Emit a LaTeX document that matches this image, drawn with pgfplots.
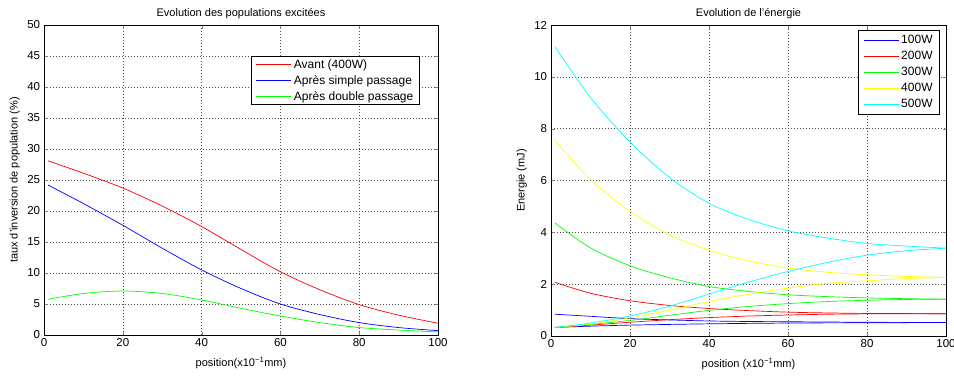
\documentclass[border=0pt]{standalone}
\usepackage{fontspec}
\setmainfont{Liberation Sans}
\usepackage{pgfplots}
\pgfplotsset{compat=1.18}
\definecolor{mred}{RGB}{255,0,0}
\definecolor{mblue}{RGB}{0,0,255}
\definecolor{mgreen}{RGB}{0,255,0}
\definecolor{myellow}{RGB}{255,255,0}
\definecolor{mcyan}{RGB}{0,255,255}
\begin{document}
\fontsize{11}{13}\selectfont
\begin{tikzpicture}
\useasboundingbox (0pt,0pt) rectangle (954pt,376pt);
\pgfplotsset{
  mystyle/.style={
    scale only axis,
    anchor=south west,
    /pgf/number format/assume math mode=true,
    tick align=inside,
    major tick length=3.5pt,
    grid=major,
    major grid style={black!70, line width=0.5pt, dash pattern=on 0.6pt off 2.4pt},
    axis line style={line width=0.6pt},
    every tick label/.append style={font=\fontsize{11.5}{13}\selectfont},
    label style={font=\fontsize{11}{13}\selectfont},
    xlabel style={yshift=-3pt},
    title style={font=\fontsize{11}{13}\selectfont, yshift=-4pt},
    legend style={font=\fontsize{12}{14}\selectfont, line width=1pt, draw=black,
      inner xsep=3pt, inner ysep=1pt},
    legend cell align=left,
    legend image code/.code={\draw[#1, line width=1.1pt] (0pt,0pt) -- (35pt,0pt);},
    every axis plot/.append style={line width=0.7pt, smooth, no markers},
    xmin=0, xmax=100,
    xtick={0,20,40,60,80,100},
    scaled ticks=false,
  }
}
\begin{axis}[mystyle,
  at={(44pt,41pt)}, width=394pt, height=310pt,
  ymin=0, ymax=50, ytick={0,5,...,50},
  title={Evolution des populations excitées},
  xlabel={position(x10\textsuperscript{−1}mm)},
  ylabel={taux d'inversion de population (\%)},
  legend style={at={(0.954,0.9)}, anchor=north east, row sep=1.5pt, inner xsep=4pt},
]
\addplot[mred] coordinates {(1,28.1) (10,26.1) (20,23.7) (30,20.8) (40,17.5) (50,13.8) (60,10.2) (70,7.3) (80,4.9) (90,3.2) (100,1.9)};
\addlegendentry{Avant (400W)}
\addplot[mblue] coordinates {(1,24.2) (10,21.2) (20,17.7) (30,14.0) (40,10.5) (50,7.5) (60,5.0) (70,3.3) (80,2.0) (90,1.2) (100,0.7)};
\addlegendentry{Après simple passage}
\addplot[mgreen] coordinates {(1,5.75) (10,6.7) (20,7.1) (30,6.7) (40,5.65) (50,4.3) (60,3.06) (70,2.0) (80,1.2) (90,0.8) (100,0.5)};
\addlegendentry{Après double passage}
\end{axis}

\begin{axis}[mystyle,
  at={(551pt,40pt)}, width=395pt, height=311pt,
  ymin=0, ymax=12, ytick={0,2,...,12},
  title={Evolution de l'énergie},
  xlabel={position (x10\textsuperscript{−1}mm)},
  ylabel={Energie (mJ)},
  legend style={at={(0.985,0.984)}, anchor=north east, row sep=0pt,
    inner xsep=5pt, inner ysep=2pt, nodes={inner ysep=3pt}},
]
\addplot[mblue] coordinates {(1,0.84) (10,0.76) (20,0.67) (30,0.62) (40,0.58) (50,0.56) (60,0.55) (80,0.53) (100,0.52)};
\addlegendentry{100W}
\addplot[mred] coordinates {(1,2.07) (10,1.65) (20,1.36) (30,1.18) (40,1.06) (50,0.98) (60,0.92) (70,0.89) (80,0.87) (90,0.865) (100,0.86)};
\addlegendentry{200W}
\addplot[mgreen] coordinates {(1,4.36) (10,3.4) (20,2.71) (30,2.25) (40,1.91) (50,1.72) (60,1.59) (70,1.52) (80,1.47) (90,1.44) (100,1.42)};
\addlegendentry{300W}
\addplot[myellow] coordinates {(1,7.55) (10,6.03) (20,4.81) (30,3.9) (40,3.31) (50,2.9) (60,2.62) (70,2.46) (80,2.36) (90,2.3) (100,2.26)};
\addlegendentry{400W}
\addplot[mcyan] coordinates {(1,11.16) (10,9.2) (20,7.48) (30,6.12) (40,5.12) (50,4.5) (60,4.06) (70,3.78) (80,3.57) (90,3.47) (100,3.39)};
\addlegendentry{500W}
\addplot[mblue, forget plot] coordinates {(1,0.33) (10,0.38) (20,0.42) (40,0.47) (60,0.5) (80,0.51) (100,0.52)};
\addplot[mred, forget plot] coordinates {(1,0.33) (10,0.42) (20,0.53) (30,0.63) (40,0.71) (50,0.77) (60,0.81) (70,0.84) (80,0.855) (90,0.86) (100,0.86)};
\addplot[mgreen, forget plot] coordinates {(1,0.33) (10,0.45) (20,0.6) (30,0.8) (40,0.99) (50,1.14) (60,1.25) (70,1.33) (80,1.38) (90,1.41) (100,1.42)};
\addplot[myellow, forget plot] coordinates {(1,0.33) (10,0.46) (20,0.7) (30,1.0) (40,1.33) (50,1.61) (60,1.85) (70,2.03) (80,2.13) (90,2.22) (100,2.26)};
\addplot[mcyan, forget plot] coordinates {(1,0.33) (10,0.5) (20,0.77) (30,1.15) (40,1.62) (50,2.08) (60,2.49) (70,2.84) (80,3.12) (90,3.29) (100,3.39)};
\end{axis}
\end{tikzpicture}
\end{document}
